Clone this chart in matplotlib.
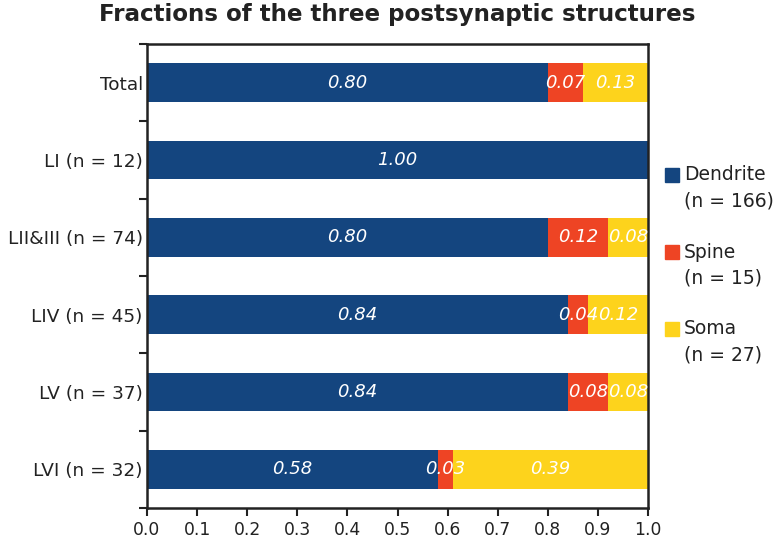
import matplotlib
matplotlib.use("Agg")
import matplotlib.pyplot as plt
from matplotlib.patches import Rectangle
import numpy as np

categories = ["Total", "LI (n = 12)", "LII&III (n = 74)",
              "LIV (n = 45)", "LV (n = 37)", "LVI (n = 32)"]
dendrite = [0.80, 1.00, 0.80, 0.84, 0.84, 0.58]
spine = [0.07, 0.00, 0.12, 0.04, 0.08, 0.03]
soma = [0.13, 0.00, 0.08, 0.12, 0.08, 0.39]
series_names = ["Dendrite", "Spine", "Soma"]
series_counts = ["(n = 166)", "(n = 15)", "(n = 27)"]
colors = ["#14457f", "#ee4424", "#fdd31c"]
xticks = [0.0, 0.1, 0.2, 0.3, 0.4, 0.5, 0.6, 0.7, 0.8, 0.9, 1.0]

fig = plt.figure(figsize=(7.76, 5.38), dpi=100)
ax = fig.add_axes([147/776, 1-508/538, (648-147)/776, (508-44)/538])

y = np.arange(len(categories))
left = np.zeros(len(categories))
for vals, col in zip([dendrite, spine, soma], colors):
    vals = np.array(vals)
    ax.barh(y, vals, left=left, height=0.5, color=col, edgecolor="none")
    for yi, (l, v) in enumerate(zip(left, vals)):
        if v > 0:
            ax.text(l + v/2, yi, f"{v:.2f}", ha="center", va="center",
                    color="white", fontsize=13, style="italic")
    left = left + vals

ax.set_xlim(0, 1)
ax.set_ylim(len(categories)-0.5, -0.5)
ax.set_yticks(y)
ax.set_yticklabels(categories, fontsize=13.3, color="#222222")
ax.set_yticks(np.arange(-0.5, len(categories)), minor=True)
ax.tick_params(axis="y", which="major", length=0, pad=3)
ax.tick_params(axis="y", which="minor", length=6, width=1.5, color="#222222", direction="out")
ax.set_xticks(xticks)
ax.set_xticklabels([f"{t:.1f}" for t in xticks], fontsize=12.3, color="#222222")
ax.tick_params(axis="x", length=6, width=1.5, color="#222222", direction="out", pad=3.5)
for s in ax.spines.values():
    s.set_linewidth(1.8)
    s.set_color("#222222")

fig.suptitle("Fractions of the three postsynaptic structures", fontsize=16.6,
             fontweight="bold", x=397.5/776, y=0.995, va="top", color="#222222")

# legend
leg_y = [175, 252, 329]
for name, cnt, col, yy in zip(series_names, series_counts, colors, leg_y):
    fig.patches.append(Rectangle((665/776, 1-(yy+7)/538), 14/776, 14/538,
                                 transform=fig.transFigure, color=col))
    fig.text(684/776, 1-yy/538, name, fontsize=13.5, va="center", ha="left", color="#222222")
    fig.text(684/776, 1-(yy+26)/538, cnt, fontsize=13.5, va="center", ha="left", color="#222222")

fig.savefig("out.png", dpi=100)
